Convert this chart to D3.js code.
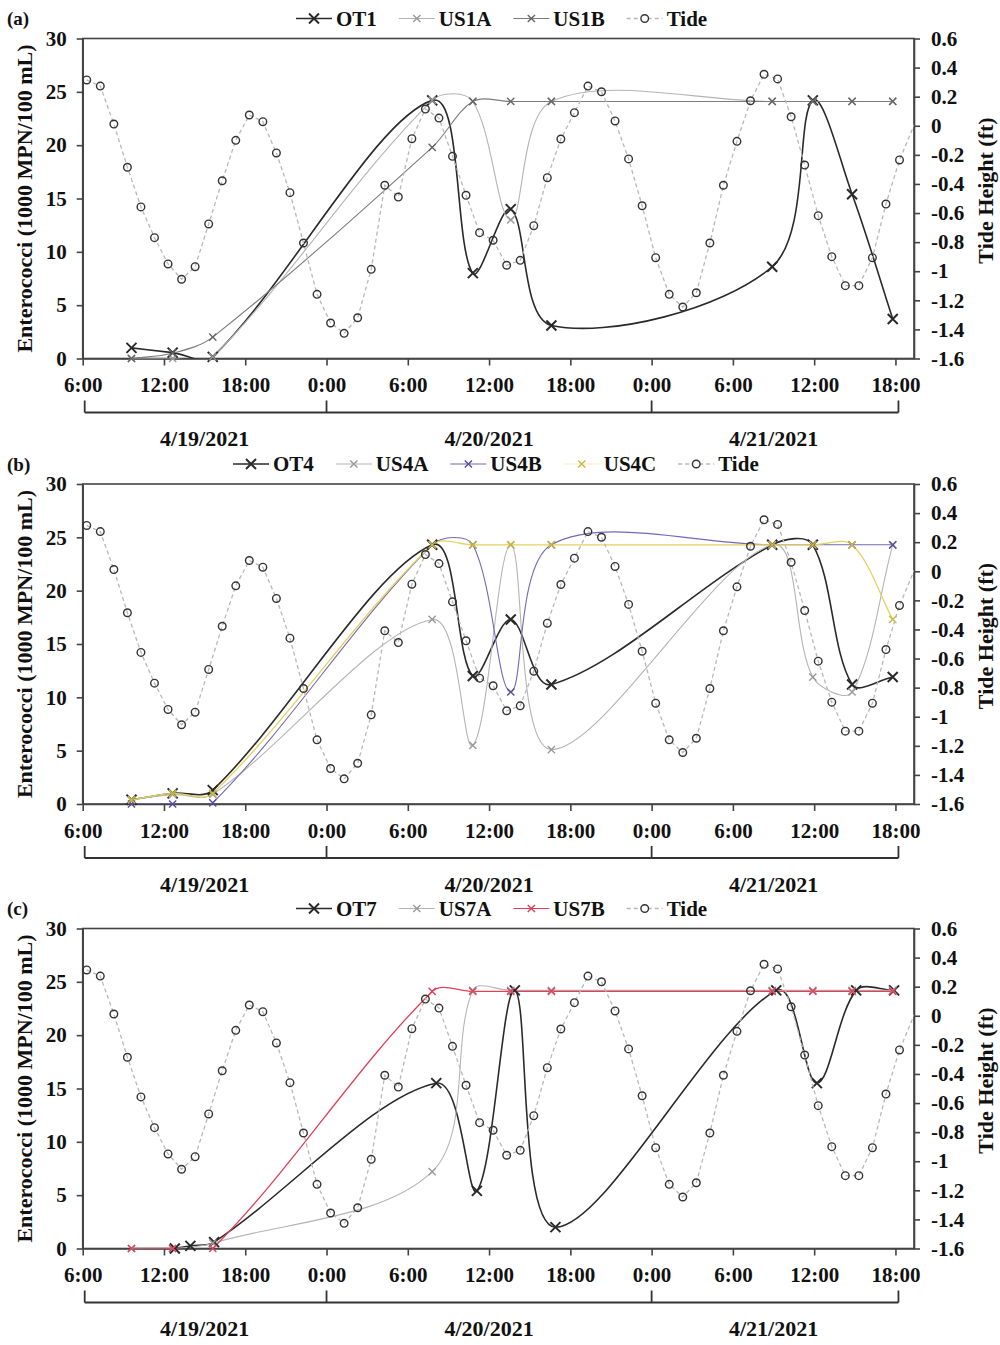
<!DOCTYPE html>
<html><head><meta charset="utf-8">
<script src="https://cdn.jsdelivr.net/npm/d3@7"></script>
<style>
body{margin:0;background:#fff}
svg{display:block}
text{font-family:"Liberation Serif","Times New Roman",serif;font-weight:bold;fill:#111}
</style>
</head><body>
<svg id="chart" width="1000" height="1345"></svg>
<script>
// ---------- DATA (hours since 4/19/2021 06:00) ----------
const tideHours = [0.3,1.3,2.3,3.3,4.3,5.3,6.3,7.3,8.3,9.3,10.3,11.3,12.3,13.3,14.3,15.3,16.3,17.3,18.3,19.3,20.3,21.3,22.3,23.3,24.3,25.3,26.3,27.3,28.3,29.3,30.3,31.3,32.3,33.3,34.3,35.3,36.3,37.3,38.3,39.3,40.3,41.3,42.3,43.3,44.3,45.3,46.3,47.3,48.3,49.3,50.3,51.3,52.3,53.3,54.3,55.3,56.3,57.3,58.3,59.3,60.3,61.45];
const tideValues = [0.315,0.273,0.012,-0.285,-0.558,-0.769,-0.950,-1.055,-0.969,-0.675,-0.378,-0.100,0.074,0.028,-0.187,-0.460,-0.806,-1.159,-1.356,-1.427,-1.320,-0.987,-0.409,-0.490,-0.089,0.115,0.053,-0.210,-0.478,-0.735,-0.787,-0.959,-0.925,-0.687,-0.357,-0.091,0.090,0.273,0.234,0.033,-0.228,-0.550,-0.907,-1.159,-1.246,-1.148,-0.806,-0.409,-0.107,0.172,0.354,0.322,0.062,-0.270,-0.618,-0.900,-1.099,-1.099,-0.907,-0.538,-0.235,0.02];

const sampleHours = [3.6,6.64,9.6,25.8,28.8,31.6,34.6,50.9,53.9,56.8,59.8];
const ot7Hours    = [6.8,7.95,9.7,26.1,29.1,31.9,34.9,51.2,54.2,57.1,59.9];

const OT1  = [1.0,0.55,0.15,24.2,8.0,14.0,3.1,8.6,24.2,15.4,3.7];
const US1A = [0,0,0.15,24.2,24.1,13.0,24.1,24.1,24.1,24.1,24.1];
const US1B = [0,0.5,2.0,19.8,24.1,24.1,24.1,24.1,24.1,24.1,24.1];

const OT4  = [0.4,1.0,1.3,24.3,12.0,17.3,11.2,24.3,24.3,11.2,11.9];
const US4A = [0.4,0.9,0.9,17.3,5.5,24.3,5.1,24.3,11.9,10.5,24.3];
const US4B = [0,0,0.1,24.3,24.3,10.5,24.3,24.3,24.3,24.3,24.3];
const US4C = [0.4,1.0,1.0,24.3,24.3,24.3,24.3,24.3,24.3,24.3,17.3];

const OT7  = [0.0,0.25,0.6,15.5,5.4,24.2,2.0,24.2,15.5,24.2,24.2];
const US7A = [0,0,0.5,7.2,24.2,24.2,24.2,24.2,24.2,24.2,24.2];
const US7B = [0,0,0,24.1,24.1,24.1,24.1,24.1,24.1,24.1,24.1];

const timeTickHours  = [0,6,12,18,24,30,36,42,48,54,60];
const timeTickLabels = ["6:00","12:00","18:00","0:00","6:00","12:00","18:00","0:00","6:00","12:00","18:00"];
const dayBoundHours  = [0,18,42,60];
const dayLabels      = ["4/19/2021","4/20/2021","4/21/2021"];
const leftTicks      = [0,5,10,15,20,25,30];
const rightTicks     = [0.6,0.4,0.2,0,-0.2,-0.4,-0.6,-0.8,-1,-1.2,-1.4,-1.6];
const rightTickLabels= ["0.6","0.4","0.2","0","-0.2","-0.4","-0.6","-0.8","-1","-1.2","-1.4","-1.6"];
const panelLabels    = ["(a)","(b)","(c)"];
const leftTitle  = "Enterococci (1000 MPN/100 mL)";
const rightTitle = "Tide Height (ft)";

// ---------- STYLE ----------
const C = {ot:"#2a2a2a", a:"#b4b4b4", b1:"#7c7c7c", b4:"#7468b8", c4:"#e2d25e", red:"#e2405a", tideLine:"#b8b8b8", tideMk:"#333"};

const panels = [
  {top:38.5, legendX:296, series:[
    {name:"OT1", hours:sampleHours, values:OT1, color:C.ot, mk:C.ot, w:1.6, big:true},
    {name:"US1A", hours:sampleHours, values:US1A, color:C.a, mk:"#999", w:1.1},
    {name:"US1B", hours:sampleHours, values:US1B, color:C.b1, mk:"#666", w:1.1}]},
  {top:484, legendX:233, series:[
    {name:"OT4", hours:sampleHours, values:OT4, color:C.ot, mk:C.ot, w:1.6, big:true},
    {name:"US4A", hours:sampleHours, values:US4A, color:C.a, mk:"#999", w:1.1},
    {name:"US4B", hours:sampleHours, values:US4B, color:C.b4, mk:"#5a4c9c", w:1.1},
    {name:"US4C", hours:sampleHours, values:US4C, color:C.c4, mk:"#c9b83c", w:1.3, noLegendLine:true}]},
  {top:928.5, legendX:296, series:[
    {name:"OT7", hours:ot7Hours, values:OT7, color:C.ot, mk:C.ot, w:1.6, big:true},
    {name:"US7A", hours:sampleHours, values:US7A, color:C.a, mk:"#999", w:1.1},
    {name:"US7B", hours:sampleHours, values:US7B, color:C.red, mk:C.red, w:1.3}]}
];

const svg = d3.select("#chart");
const X0 = 82.7, X1 = 914, H = 320;
const x = d3.scaleLinear().domain([0, 61.37]).range([X0, X1]);
const FS = 21;

// Excel-like smoothed line: Bezier with tangents scaled by adjacent chord lengths
function smoothPath(pts){
  const p = d3.path();
  const n = pts.length;
  const dist = (a,b)=>Math.hypot(b[0]-a[0], b[1]-a[1]);
  p.moveTo(pts[0][0], pts[0][1]);
  for (let i=0;i<n-1;i++){
    const P0 = pts[Math.max(0,i-1)], P1 = pts[i], P2 = pts[i+1], P3 = pts[Math.min(n-1,i+2)];
    const d01 = dist(P0,P1), d12 = dist(P1,P2), d23 = dist(P2,P3);
    const f1 = d12 / (3*((d01+d12)||1));
    const f2 = d12 / (3*((d12+d23)||1));
    const c1 = [P1[0] + (P2[0]-P0[0])*f1, P1[1] + (P2[1]-P0[1])*f1];
    const c2 = [P2[0] - (P3[0]-P1[0])*f2, P2[1] - (P3[1]-P1[1])*f2];
    p.bezierCurveTo(c1[0],c1[1],c2[0],c2[1],P2[0],P2[1]);
  }
  return p.toString();
}

function marker(g, cx, cy, color, big){
  const s = big ? 5 : 3.6;
  g.append("path").attr("d", `M${cx-s},${cy-s}L${cx+s},${cy+s}M${cx-s},${cy+s}L${cx+s},${cy-s}`)
   .attr("stroke", color).attr("stroke-width", big ? 2 : 1.4).attr("fill","none");
}

panels.forEach((p, pi) => {
  const top = p.top, bot = top + H;
  const g = svg.append("g");
  const y = d3.scaleLinear().domain([0,30]).range([bot, top]);
  const y2 = d3.scaleLinear().domain([-1.6,0.6]).range([bot, top]);

  const clipId = "clip"+pi;
  svg.append("clipPath").attr("id", clipId).append("rect")
     .attr("x", X0).attr("y", top).attr("width", X1-X0).attr("height", H);

  g.append("rect").attr("x",X0).attr("y",top).attr("width",X1-X0).attr("height",H)
   .attr("fill","none").attr("stroke","#444").attr("stroke-width",1.6);

  const styleAxis = (ax) => {
    ax.select(".domain").attr("stroke","#444").attr("stroke-width",1.6);
    ax.selectAll(".tick line").attr("stroke","#444").attr("stroke-width",1.6);
    ax.selectAll(".tick text").attr("font-size",FS).attr("fill","#111")
      .attr("font-family",'"Liberation Serif","Times New Roman",serif').attr("font-weight","bold");
  };
  const axL = g.append("g").attr("transform",`translate(${X0},0)`)
    .call(d3.axisLeft(y).tickValues(leftTicks).tickSize(6).tickSizeOuter(0).tickPadding(10).tickFormat(d3.format("d")));
  styleAxis(axL);
  const axR = g.append("g").attr("transform",`translate(${X1},0)`)
    .call(d3.axisRight(y2).tickValues(rightTicks).tickSize(6).tickSizeOuter(0).tickPadding(11).tickFormat((d,i)=>rightTickLabels[i]));
  styleAxis(axR);
  const axB = g.append("g").attr("transform",`translate(0,${bot})`)
    .call(d3.axisBottom(x).tickValues(timeTickHours).tickSize(7).tickSizeOuter(0).tickPadding(12).tickFormat((d,i)=>timeTickLabels[i]));
  styleAxis(axB);

  const by0 = bot + 42, by1 = bot + 54;
  g.append("line").attr("x1",x(dayBoundHours[0])+2).attr("x2",x(dayBoundHours[3])+3)
   .attr("y1",by1).attr("y2",by1).attr("stroke","#333").attr("stroke-width",1.8);
  dayBoundHours.forEach((h,i)=>{
    const xx = x(h) + (i===0?2:(i===3?3:0));
    g.append("line").attr("x1",xx).attr("x2",xx).attr("y1",by0).attr("y2",by1)
     .attr("stroke","#333").attr("stroke-width",1.8);
  });
  dayLabels.forEach((lab,i)=>{
    const cx = x((dayBoundHours[i]+dayBoundHours[i+1])/2);
    g.append("text").attr("x",cx).attr("y",bot+80).attr("dy","0.35em")
     .attr("text-anchor","middle").attr("font-size",22).text(lab);
  });

  g.append("text").attr("transform",`translate(24,${top+160}) rotate(-90)`)
   .attr("text-anchor","middle").attr("dy","0.35em").attr("font-size",22).text(leftTitle);
  g.append("text").attr("transform",`translate(985,${top+152}) rotate(-90)`)
   .attr("text-anchor","middle").attr("dy","0.35em").attr("font-size",22).text(rightTitle);

  g.append("text").attr("x",7).attr("y",top-20).attr("dy","0.35em").attr("font-size",19).text(panelLabels[pi]);

  const plot = g.append("g");
  p.series.forEach(s=>{
    const pts = s.hours.map((h,i)=>[x(h), y(s.values[i])]);
    plot.append("path").attr("d", smoothPath(pts)).attr("fill","none")
      .attr("stroke", s.color).attr("stroke-width", s.w).attr("clip-path",`url(#${clipId})`);
  });
  p.series.forEach(s=>{
    s.hours.forEach((h,i)=> marker(plot, x(h), y(s.values[i]), s.mk, s.big));
  });

  const tpts = tideHours.map((h,i)=>[x(h), y2(tideValues[i])]);
  plot.append("path").attr("d", d3.line()(tpts)).attr("fill","none")
    .attr("stroke", C.tideLine).attr("stroke-width",1.3).attr("stroke-dasharray","4,3")
    .attr("clip-path",`url(#${clipId})`);
  tideHours.forEach((h,i)=>{
    if (h <= x.domain()[1]) {
      plot.append("circle").attr("cx",x(h)).attr("cy",y2(tideValues[i])).attr("r",3.8)
        .attr("fill","none").attr("stroke",C.tideMk).attr("stroke-width",1.4);
    }
  });

  const ly = top - 20;
  const lg = g.append("g");
  let lx = p.legendX;
  const items = p.series.map(s=>({name:s.name, color:s.color, mk:s.mk, big:s.big, noLine:s.noLegendLine, tide:false}))
                 .concat([{name:"Tide", tide:true}]);
  items.forEach(it=>{
    if (it.tide) {
      lg.append("line").attr("x1",lx).attr("x2",lx+36).attr("y1",ly).attr("y2",ly)
        .attr("stroke",C.tideLine).attr("stroke-width",1.3).attr("stroke-dasharray","4,3");
      lg.append("circle").attr("cx",lx+18).attr("cy",ly).attr("r",3.8).attr("fill","#fff")
        .attr("stroke",C.tideMk).attr("stroke-width",1.4);
    } else {
      lg.append("line").attr("x1",lx).attr("x2",lx+36).attr("y1",ly).attr("y2",ly)
        .attr("stroke",it.color).attr("stroke-width",it.big?1.6:1.1).attr("opacity", it.noLine ? 0.35 : 1);
      marker(lg, lx+18, ly, it.mk, it.big);
    }
    const t = lg.append("text").attr("x",lx+40).attr("y",ly).attr("dy","0.35em")
      .attr("font-size",FS).text(it.name);
    lx = lx + 40 + t.node().getComputedTextLength() + 22;
  });
});
</script>
</body></html>
